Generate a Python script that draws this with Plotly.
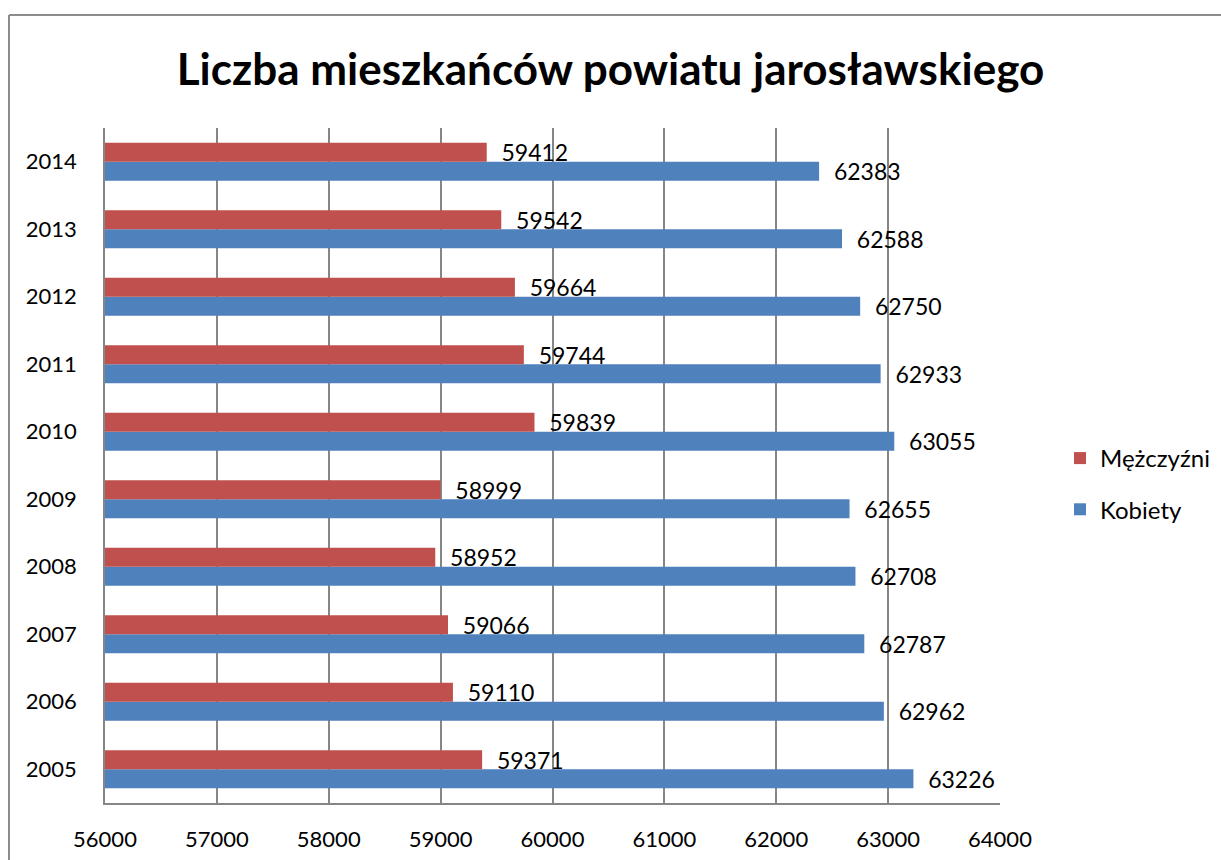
import plotly.graph_objects as go

years = ["2005", "2006", "2007", "2008", "2009", "2010", "2011", "2012", "2013", "2014"]
mezczyzni = [59371, 59110, 59066, 58952, 58999, 59839, 59744, 59664, 59542, 59412]
kobiety = [63226, 62962, 62787, 62708, 62655, 63055, 62933, 62750, 62588, 62383]
x_ticks = [56000, 57000, 58000, 59000, 60000, 61000, 62000, 63000, 64000]

FONT = "Lato"
RED = "#C0504D"
BLUE = "#4F81BD"
GRID = "#868686"

pad = "\u00a0\u00a0"

fig = go.Figure()
fig.add_trace(go.Bar(
    y=years, x=kobiety, orientation="h", name="Kobiety", legendgroup="k", legendrank=2,
    marker=dict(color=BLUE, line=dict(width=0)),
    text=[pad + str(v) for v in kobiety], textposition="outside", constraintext="none",
    textfont=dict(family=FONT, size=23, color="black"), cliponaxis=False,
    base=0,
))
fig.add_trace(go.Bar(
    y=years, x=mezczyzni, orientation="h", name="Mężczyźni", legendgroup="m", legendrank=1,
    marker=dict(color=RED, line=dict(width=0)),
    text=[pad + str(v) for v in mezczyzni], textposition="outside", constraintext="none",
    textfont=dict(family=FONT, size=23, color="black"), cliponaxis=False,
    base=0,
))

W, H = 1221, 860
L, R, T, B = 105, 221, 128, 57
pw, ph = W - L - R, H - T - B

def px2paper_x(px):
    return (px - L) / pw

def px2paper_y(py):
    return (H - B - py) / ph

fig.update_layout(
    width=W, height=H,
    margin=dict(l=L, r=R, t=T, b=B, autoexpand=False),
    paper_bgcolor="white", plot_bgcolor="white",
    barmode="group", bargap=0.44, bargroupgap=0,
    title=dict(text="<b>Liczba mieszkańców powiatu jarosławskiego</b>",
               font=dict(family=FONT, size=44, color="black"),
               x=0.5, xanchor="center", y=1 - 70 / H, yanchor="middle"),
    font=dict(family=FONT, size=22, color="black"),
    showlegend=True,
    legend=dict(x=px2paper_x(1060), y=px2paper_y(484), xanchor="left", yanchor="middle",
                traceorder="grouped", font=dict(family=FONT, size=24, color="black"),
                itemwidth=30, tracegroupgap=17, bgcolor="rgba(0,0,0,0)"),
    xaxis=dict(range=[56000, 64000], tickvals=x_ticks, ticktext=[str(v) for v in x_ticks],
               showgrid=True, gridcolor=GRID, gridwidth=1.5,
               showline=True, linecolor=GRID, linewidth=1.5, automargin=False,
               ticks="", zeroline=False, ticklabelstandoff=16,
               tickfont=dict(family=FONT, size=22, color="black"), fixedrange=True),
    yaxis=dict(categoryorder="array", categoryarray=years,
               showgrid=False, showline=True, linecolor=GRID, linewidth=1.5, automargin=False,
               ticks="", ticklabelstandoff=22,
               tickfont=dict(family=FONT, size=22, color="black"), fixedrange=True),
    shapes=[
        dict(type="line", xref="paper", yref="paper",
             x0=px2paper_x(9), x1=px2paper_x(W + 5), y0=px2paper_y(15), y1=px2paper_y(15),
             line=dict(color="#8C8C8C", width=2)),
        dict(type="line", xref="paper", yref="paper",
             x0=px2paper_x(9), x1=px2paper_x(9), y0=px2paper_y(15), y1=px2paper_y(H + 5),
             line=dict(color="#8C8C8C", width=2)),
    ],
)

fig.write_html("out.html", config={"displayModeBar": False},
               post_script="document.body.style.margin='0';document.body.style.overflow='hidden';")
